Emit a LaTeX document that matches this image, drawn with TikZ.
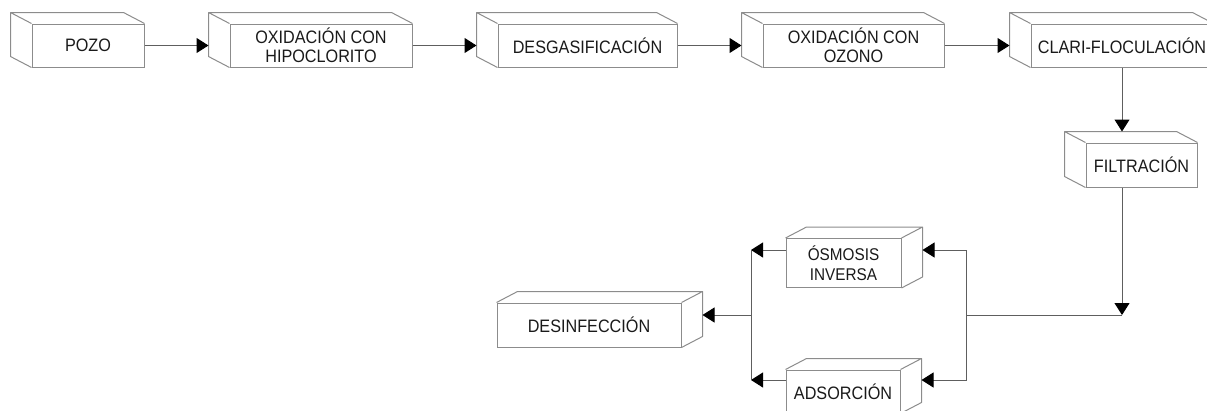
\documentclass[tikz,border=0pt]{standalone}
\usepackage{fontspec}
\setmainfont{Liberation Sans}[FakeStretch=0.9]
\usetikzlibrary{arrows.meta, calc}
\definecolor{borde}{HTML}{8C8C8C}
\definecolor{linea}{HTML}{5E5E5E}
\definecolor{texto}{HTML}{1A1A1A}

\tikzset{
  caja/.style={draw=borde, line width=1pt, fill=white, inner sep=0pt,
    minimum height=43pt, align=center, text=texto,
    font=\fontsize{18}{19}\selectfont},
  caja chica/.style={caja, font=\fontsize{17}{20}\selectfont},
  fondo/.style={draw=borde, line width=1pt, line join=round},
  conector/.style={draw=linea, line width=1pt},
  flecha/.style={conector, -{Triangle[length=12pt, width=15pt, color=black]}},
}

\begin{document}
\begin{tikzpicture}[x=1pt, y=-1pt]
  \useasboundingbox (0,0) rectangle (1207,410);

  % Process boxes, top row
  \node[caja, minimum width=112pt] (pozo) at (88,45.5) {POZO};
  \node[caja, minimum width=182pt] (hipo) at (321,45.5) {OXIDACIÓN CON\\HIPOCLORITO};
  \node[caja, minimum width=179pt] (desg) at (587.5,45.5) {DESGASIFICACIÓN};
  \node[caja, minimum width=181pt] (ozono) at (853.5,45.5) {OXIDACIÓN CON\\OZONO};
  \node[caja, minimum width=182pt] (clari) at (1122,45.5) {CLARI-FLOCULACIÓN};
  \node[caja, minimum width=111pt, minimum height=44pt] (filtr) at (1141.5,165) {FILTRACIÓN};

  % Process boxes, bottom row
  \node[caja chica, minimum width=115pt, minimum height=49pt] (osmo) at (843.5,263) {ÓSMOSIS\\INVERSA};
  \node[caja, minimum width=114pt] (adsor) at (843,391.5) {ADSORCIÓN};
  \node[caja, minimum width=184pt, minimum height=44pt] (desin) at (589,325) {DESINFECCIÓN};

  % Depth faces, back to the upper left
  \foreach \n in {pozo, hipo, desg, ozono, clari, filtr}
    \draw[fondo] (\n.south west) -- ++(-21,-11) -- ([shift={(-21,-11)}]\n.north west)
      -- ([shift={(-21,-11)}]\n.north east) -- (\n.north east)
      (\n.north west) -- ++(-21,-11);

  % Depth faces, back to the upper right
  \foreach \n in {osmo, adsor, desin}
    \draw[fondo] (\n.north west) -- ++(21,-11) -- ([shift={(21,-11)}]\n.north east)
      -- ([shift={(21,-11)}]\n.south east) -- (\n.south east)
      (\n.north east) -- ++(21,-11);

  % Top row connections
  \draw[flecha] (pozo.east) -- ([xshift=-21pt]hipo.west);
  \draw[flecha] (hipo.east) -- ([xshift=-21pt]desg.west);
  \draw[flecha] (desg.east) -- ([xshift=-21pt]ozono.west);
  \draw[flecha] (ozono.east) -- ([xshift=-21pt]clari.west);

  % Down the right side
  \coordinate (nudo) at (1122,315);
  \coordinate (reparto) at (966,315);
  \coordinate (colector) at (751,315);
  \coordinate (osmo izq) at (osmo.west |- 0,250);
  \coordinate (adsor izq) at (adsor.west |- 0,380);
  \draw[flecha] (clari.south) -- ($(clari.south |- filtr.north)+(0,-11)$);
  \draw[flecha] (filtr.south -| clari.south) -- (nudo);
  \draw[conector] (nudo) -- (reparto);

  % Split into the two treatments
  \draw[flecha] (reparto) |- ([xshift=21pt]osmo.east |- osmo izq);
  \draw[flecha] (reparto) |- ([xshift=21pt]adsor.east |- adsor izq);

  % Join again towards disinfection
  \draw[flecha] (osmo izq) -- (colector |- osmo izq);
  \draw[flecha] (adsor izq) -- (colector |- adsor izq);
  \draw[conector] (colector |- osmo izq) -- (colector |- adsor izq);
  \draw[flecha] (colector) -- ([xshift=21pt]colector -| desin.east);
\end{tikzpicture}
\end{document}
